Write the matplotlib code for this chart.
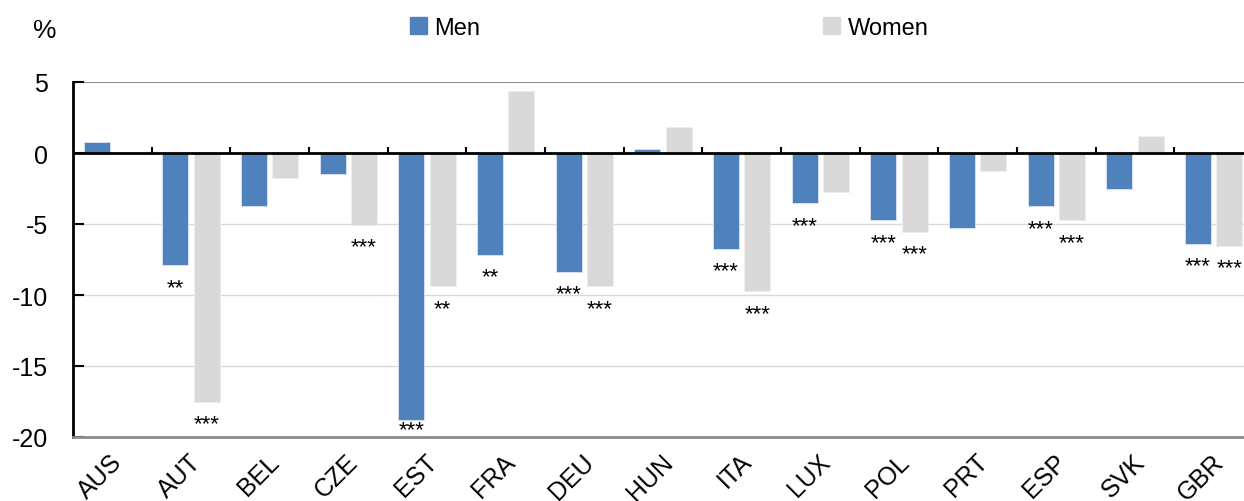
import matplotlib
matplotlib.use("Agg")
import matplotlib.pyplot as plt
import numpy as np
from matplotlib.patches import Rectangle
from matplotlib.transforms import ScaledTranslation

plt.rcParams['font.family'] = ['Liberation Sans', 'DejaVu Sans']

countries = ["AUS", "AUT", "BEL", "CZE", "EST", "FRA", "DEU", "HUN",
             "ITA", "LUX", "POL", "PRT", "ESP", "SVK", "GBR"]
men = [0.75, -7.9, -3.75, -1.5, -18.8, -7.15, -8.35, 0.3,
       -6.75, -3.55, -4.75, -5.25, -3.75, -2.55, -6.4]
women = [0.0, -17.5, -1.75, -5.05, -9.4, 4.35, -9.4, 1.85,
         -9.75, -2.75, -5.55, -1.25, -4.75, 1.2, -6.55]
men_sig = ["", "**", "", "", "***", "**", "***", "",
           "***", "***", "***", "", "***", "", "***"]
women_sig = ["", "***", "", "***", "**", "", "***", "",
             "***", "", "***", "", "***", "", "***"]

blue = "#4F81BD"
grey = "#D9D9D9"

fig = plt.figure(figsize=(12.44, 5.02), dpi=100)
ax = fig.add_axes([73 / 1244, 1 - 438 / 502, 1180 / 1244, 355 / 502])

x = np.arange(len(countries))
w = 0.33
ax.bar(x - 0.2, men, w, color=blue, edgecolor="#DCE6F2", linewidth=0.6, zorder=3, label="Men")
ax.bar(x + 0.2, women, w, color=grey, edgecolor="#EEEEEE", linewidth=0.6, zorder=3, label="Women")

# significance stars under the bar ends
for xi, v, s in zip(x - 0.2, men, men_sig):
    if s:
        ax.text(xi, max(v - 1.55, -19.45), s, ha="center", va="center", fontsize=16, zorder=4)
for xi, v, s in zip(x + 0.2, women, women_sig):
    if s:
        ax.text(xi, max(v - 1.55, -19.45), s, ha="center", va="center", fontsize=16, zorder=4)

ax.set_xlim(-0.5, len(countries) - 0.5)
ax.set_ylim(-20, 5)
ax.set_yticks([5, 0, -5, -10, -15, -20])
ax.set_yticklabels(["5", "0", "-5", "-10", "-15", "-20"])
for yv in [-5, -10, -15]:
    ax.axhline(yv, color="#D9D9D9", linewidth=1, zorder=1)
ax.axhline(5, color="#8C8C8C", linewidth=1.5, zorder=1)
ax.axhline(0, color="black", linewidth=2, zorder=5)

# category separators on the zero line
for b in x[1:] - 0.5:
    ax.plot([b, b], [0, 0.45], color="black", linewidth=1.5, zorder=5, solid_capstyle="butt")

for side in ["top", "right"]:
    ax.spines[side].set_visible(False)
ax.spines["left"].set_color("black")
ax.spines["left"].set_linewidth(2)
ax.spines["bottom"].set_color("#8C8C8C")
ax.spines["bottom"].set_linewidth(2)

ax.tick_params(axis="y", direction="in", length=8, width=1.5, pad=18, labelsize=18)
ax.tick_params(axis="x", length=0, pad=14)
ax.set_xticks(x)
ax.set_xticklabels(countries, rotation=45, ha="right", va="center",
                   rotation_mode="anchor", fontsize=18)
shift = ScaledTranslation(6 / 100, -1 / 100, fig.dpi_scale_trans)
for lbl in ax.get_xticklabels():
    lbl.set_transform(lbl.get_transform() + shift)

fig.text(45 / 1244, 1 - 31 / 502, "%", ha="center", va="center", fontsize=19)

handles = [Rectangle((0, 0), 1, 1, color=blue), Rectangle((0, 0), 1, 1, color=grey)]
leg = fig.legend(handles, ["Men", "Women"], loc="center", bbox_to_anchor=(669 / 1244, 1 - 29 / 502),
                 ncol=2, frameon=False, fontsize=17, handlelength=0.75, handleheight=0.75,
                 handletextpad=0.3, columnspacing=14.5)

fig.savefig("out.png", dpi=100)
